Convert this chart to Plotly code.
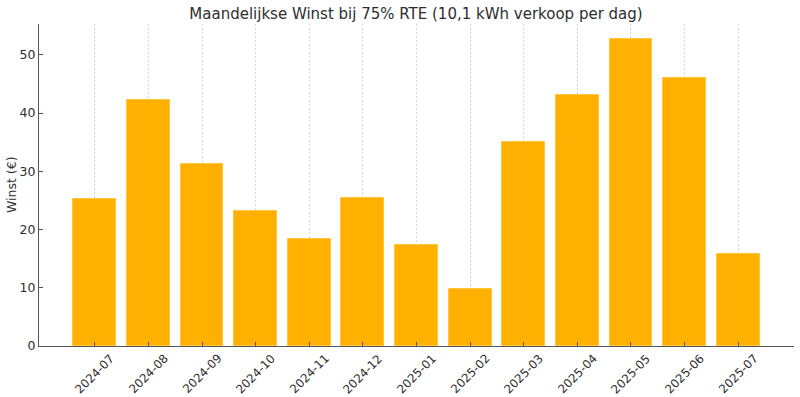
import plotly.graph_objects as go

months = ["2024-07", "2024-08", "2024-09", "2024-10", "2024-11", "2024-12",
          "2025-01", "2025-02", "2025-03", "2025-04", "2025-05", "2025-06", "2025-07"]
winst = [25.2, 42.2, 31.2, 23.2, 18.45, 25.4, 17.3, 9.85, 35.0, 43.1, 52.7, 46.05, 15.8]
y_ticks = [0, 10, 20, 30, 40, 50]

x_idx = list(range(len(months)))
TXT = "#2e2e2e"
AX = "#555555"

fig = go.Figure()
fig.add_trace(go.Bar(
    x=x_idx, y=winst, width=0.8,
    marker=dict(color="#FFB000", line=dict(color="#FFC640", width=1)),
))

fig.update_layout(
    width=800, height=397,
    margin=dict(l=39, r=6, t=24, b=51, autoexpand=False),
    plot_bgcolor="white", paper_bgcolor="white",
    font=dict(family="DejaVu Sans", size=12, color=TXT),
    showlegend=False,
    bargap=0,
    title=dict(text="Maandelijkse Winst bij 75% RTE (10,1 kWh verkoop per dag)",
               x=0.52, xanchor="center", y=0.966, yanchor="middle",
               font=dict(size=15, color=TXT)),
)
fig.update_xaxes(
    range=[-1.04, 13.04],
    tickmode="array", tickvals=x_idx, showticklabels=False,
    ticks="inside", ticklen=4, tickcolor=AX,
    showline=True, linecolor=AX, linewidth=1.3,
    showgrid=True, gridcolor="#d8d8d8", griddash="2px,2px", gridwidth=0.8,
    layer="above traces", zeroline=False, automargin=False,
)
fig.update_yaxes(
    range=[0, 55.3],
    tickmode="array", tickvals=y_ticks,
    ticks="inside", ticklen=4, tickcolor=AX,
    showline=True, linecolor=AX, linewidth=1.3,
    showgrid=False, zeroline=False, automargin=False,
    tickfont=dict(size=12.5),
)

fig.add_annotation(
    x=-0.037, xref="paper", y=0.5, yref="paper",
    text="Winst (€)", textangle=-90, showarrow=False,
    xanchor="center", yanchor="middle",
    font=dict(size=12.5, color=TXT),
)

for i, m in zip(x_idx, months):
    fig.add_annotation(
        x=i, xref="x", y=0, yref="paper", yshift=-3,
        text=m, textangle=-45, showarrow=False,
        xanchor="center", yanchor="top",
        font=dict(size=11.8, color=TXT),
    )

fig.write_html("out.html", config={"displayModeBar": False},
               post_script="document.body.style.margin='0';")
